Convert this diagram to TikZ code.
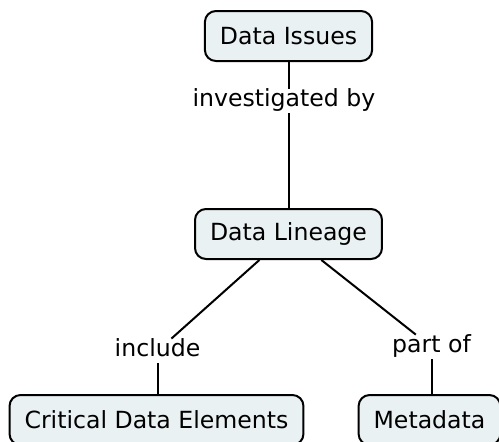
\documentclass[tikz,border=0pt]{standalone}
\usepackage{fontspec}
\setmainfont{DejaVu Sans}
\usepackage{xcolor}
\usetikzlibrary{shapes}
\definecolor{conceptfill}{HTML}{E9F1F3}
\tikzstyle{concept} = [rectangle, rounded corners=5.5pt, minimum height=25pt, inner xsep=7.5pt, text centered, draw=black, line width=1pt, fill=conceptfill, font=\fontsize{11.8}{14}\selectfont]
\tikzstyle{linkphrase} = [inner sep=1pt, text height=0.75em, text depth=0.25em, fill=white, font=\fontsize{11.8}{14}\selectfont]
\tikzstyle{link} = [line width=1pt]

\begin{document}
\begin{tikzpicture}[x=0.5pt, y=0.5pt, yscale=-1]

\useasboundingbox (0, 0) rectangle (499, 441);

\node at (288.5, 36) (issues) [concept] {Data Issues};
\node at (288.5, 234) (lineage) [concept] {Data Lineage};
\node at (156.5, 420) (elements) [concept] {Critical Data Elements};
\node at (429.5, 420) (metadata) [concept] {Metadata};

\node at (284, 101) (investigated) [linkphrase] {investigated by};
\node at (157.5, 351) (include) [linkphrase] {include};
\node at (431.5, 347) (partof) [linkphrase] {part of};

\draw [link] (issues) -- (investigated.north-|issues);
\draw [link] (investigated.south-|lineage) -- (lineage);

\draw [link] (lineage) -- (include);
\draw [link] (include) -- (elements.north-|include);

\draw [link] (lineage) -- (partof);
\draw [link] (partof) -- (metadata.north-|partof);

\end{tikzpicture}
\end{document}
